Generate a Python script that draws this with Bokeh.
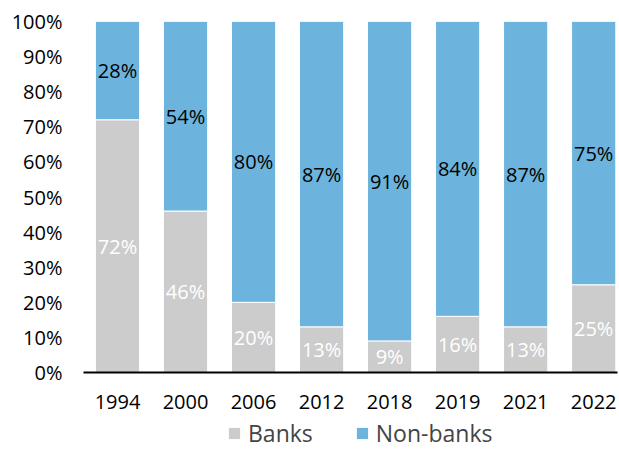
from bokeh.plotting import figure
from bokeh.layouts import column
from bokeh.models import ColumnDataSource, Range1d, FixedTicker, Legend, LegendItem, NumeralTickFormatter
from bokeh.core.properties import value
from bokeh.embed import file_html
from bokeh.resources import INLINE

years = ["1994", "2000", "2006", "2012", "2018", "2019", "2021", "2022"]
banks = [72, 46, 20, 13, 9, 16, 13, 25]
nonbanks = [28, 54, 80, 87, 91, 84, 87, 75]
series_names = ["Banks", "Non-banks"]

FONT = "Open Sans"
GRAY = "#CCCCCC"
BLUE = "#6CB4DD"
FS = "20px"

xs = list(range(len(years)))
src = ColumnDataSource(dict(
    x=xs,
    banks=[b / 100 for b in banks],
    nonbanks=[n / 100 for n in nonbanks],
    bank_mid=[b / 200 for b in banks],
    nb_mid=[(b + n / 2) / 100 for b, n in zip(banks, nonbanks)],
    bank_lbl=[f"{b}%" for b in banks],
    nb_lbl=[f"{n}%" for n in nonbanks],
))

p = figure(width=619, height=417, output_backend="svg", toolbar_location=None,
           x_range=Range1d(-0.5, 7.35), y_range=Range1d(0, 1),
           min_border_left=83, min_border_right=2, min_border_top=21, min_border_bottom=45)
p.outline_line_color = None
p.grid.grid_line_color = None

r = p.vbar_stack(["banks", "nonbanks"], x="x", width=0.65, source=src,
                 color=[GRAY, BLUE], line_color="white", line_width=1)

p.text(x="x", y="bank_mid", text="bank_lbl", source=src, text_color="white",
       text_font=value(FONT), text_font_size=FS, text_align="center", text_baseline="middle")
p.text(x="x", y="nb_mid", text="nb_lbl", source=src, text_color="black",
       text_font=value(FONT), text_font_size=FS, text_align="center", text_baseline="middle")

p.xaxis.ticker = FixedTicker(ticks=xs)
p.xaxis.major_label_overrides = {i: y for i, y in enumerate(years)}
p.xaxis.axis_line_color = "black"
p.xaxis.axis_line_width = 2
p.xaxis.major_tick_line_color = None
p.xaxis.minor_tick_line_color = None
p.xaxis.major_label_standoff = 16
p.xaxis.major_label_text_font = FONT
p.xaxis.major_label_text_font_size = FS
p.xaxis.major_label_text_color = "black"

p.yaxis.ticker = FixedTicker(ticks=[i / 10 for i in range(11)])
p.yaxis.formatter = NumeralTickFormatter(format="0%")
p.yaxis.axis_line_color = None
p.yaxis.major_tick_line_color = None
p.yaxis.minor_tick_line_color = None
p.yaxis.major_label_standoff = 15
p.yaxis.major_label_text_font = FONT
p.yaxis.major_label_text_font_size = FS
p.yaxis.major_label_text_color = "black"

# legend strip below the chart (frame edges align with the chart above)
lf = figure(width=619, height=32, output_backend="svg", toolbar_location=None,
            x_range=Range1d(0, 1), y_range=Range1d(0, 1),
            min_border_left=83, min_border_right=2, min_border_top=0, min_border_bottom=0)
lf.axis.visible = False
lf.grid.grid_line_color = None
lf.outline_line_color = None
dummy = ColumnDataSource(dict(x=[-10], top=[-10]))
lr = [lf.vbar(x="x", top="top", width=0.5, source=dummy, color=c, line_color=None)
      for c in (GRAY, BLUE)]
legend = Legend(items=[LegendItem(label=n, renderers=[rr]) for n, rr in zip(series_names, lr)],
                orientation="horizontal", location=(144, 0),
                label_text_font=FONT, label_text_font_size="23px",
                label_text_line_height=0.9, label_height=14,
                glyph_width=14, glyph_height=14, label_standoff=7, spacing=42,
                border_line_color=None, background_fill_alpha=0,
                padding=0, margin=0)
lf.add_layout(legend, "center")

layout = column(p, lf, spacing=0)
open("out.html", "w").write(file_html(layout, INLINE))
